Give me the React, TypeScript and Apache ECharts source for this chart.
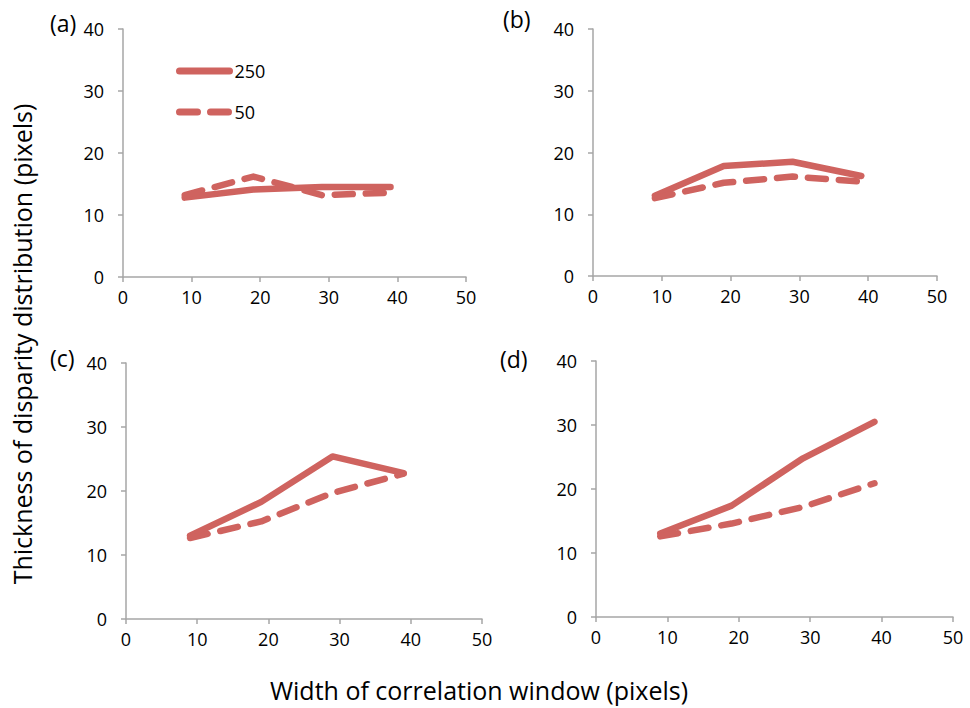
import React, { useEffect, useRef } from "react";
import * as echarts from "echarts";

const windowSizes = [9, 19, 29, 39];
const xTicks = [0, 10, 20, 30, 40, 50];
const yTicks = [0, 10, 20, 30, 40];

const a250 = [12.8, 14.1, 14.5, 14.5];
const a50 = [13.2, 16.2, 13.2, 13.6];
const b250 = [13.0, 17.8, 18.5, 16.2];
const b50 = [12.6, 15.1, 16.1, 15.3];
const c250 = [13.0, 18.3, 25.4, 22.8];
const c50 = [12.65, 15.25, 19.7, 22.7];
const d250 = [13.05, 17.4, 24.8, 30.5];
const d50 = [12.6, 14.6, 17.2, 20.9];

const panelLabels = ["(a)", "(b)", "(c)", "(d)"];
const seriesNames = ["250", "50"];
const xTitle = "Width of correlation window (pixels)";
const yTitle = "Thickness of disparity distribution (pixels)";

const COLOR = "#cf635f";
const AXIS = "#a6a6a6";
const FONT = "'Open Sans', sans-serif";

export default function App() {
  const ref = useRef<HTMLDivElement>(null);
  useEffect(() => {
    if (!ref.current) return;
    const chart = echarts.init(ref.current, null, { renderer: "svg" });
    const grids = [
      { left: 123, top: 29, width: 343, height: 248 },
      { left: 593, top: 29, width: 344, height: 247 },
      { left: 126, top: 363, width: 356, height: 256 },
      { left: 596, top: 361, width: 357, height: 256 },
    ];
    const panels = [
      [a250, a50],
      [b250, b50],
      [c250, c50],
      [d250, d50],
    ];
    const xAxes = grids.map((_, i) => ({
      type: "value",
      gridIndex: i,
      min: xTicks[0],
      max: xTicks[xTicks.length - 1],
      interval: 10,
      axisLine: { show: true, lineStyle: { color: AXIS, width: 1.5 } },
      axisTick: { show: true, length: 5, lineStyle: { color: AXIS, width: 1.5 } },
      splitLine: { show: false },
      axisLabel: { color: "#000", fontSize: 18, fontFamily: FONT, margin: 11 },
    }));
    const yAxes = grids.map((_, i) => ({
      type: "value",
      gridIndex: i,
      min: yTicks[0],
      max: yTicks[yTicks.length - 1],
      interval: 10,
      axisLine: { show: true, lineStyle: { color: AXIS, width: 1.5 } },
      axisTick: { show: true, length: 5, lineStyle: { color: AXIS, width: 1.5 } },
      splitLine: { show: false },
      axisLabel: { color: "#000", fontSize: 18, fontFamily: FONT, margin: 19 },
    }));
    const series: any[] = [];
    panels.forEach((p, i) => {
      p.forEach((vals, j) => {
        series.push({
          type: "line",
          name: seriesNames[j],
          xAxisIndex: i,
          yAxisIndex: i,
          symbol: "none",
          data: windowSizes.map((x, k) => [x, vals[k]]),
          lineStyle: {
            color: COLOR,
            width: 6.5,
            type: j === 0 ? "solid" : [18, 13],
            cap: "round",
            join: "round",
          },
          itemStyle: { color: COLOR },
        });
      });
    });
    const labelPos = [
      [50, 26],
      [503, 22],
      [50, 361],
      [500, 362],
    ];
    chart.setOption({
      animation: false,
      backgroundColor: "#fff",
      grid: grids,
      xAxis: xAxes,
      yAxis: yAxes,
      series,
      legend: {
        data: seriesNames,
        orient: "vertical",
        left: 171,
        top: 57,
        padding: 5,
        itemWidth: 50,
        itemHeight: 14,
        itemGap: 23,
        textStyle: { color: "#000", fontSize: 18, fontFamily: FONT },
        lineStyle: { width: 7, cap: "round" },
        itemStyle: { opacity: 0 },
        selectedMode: false,
      },
      graphic: [
        ...panelLabels.map((t, i) => ({
          type: "text",
          left: labelPos[i][0],
          top: labelPos[i][1] - 15,
          style: { text: t, fontSize: 23, fontFamily: FONT, fill: "#000" },
        })),
        {
          type: "text",
          x: 479,
          y: 690,
          style: {
            text: xTitle,
            fontSize: 25,
            fontFamily: FONT,
            fill: "#000",
            align: "center",
            verticalAlign: "middle",
          },
        },
        {
          type: "text",
          x: 22,
          y: 344,
          rotation: Math.PI / 2,
          style: {
            text: yTitle,
            fontSize: 25,
            fontFamily: FONT,
            fill: "#000",
            align: "center",
            verticalAlign: "middle",
          },
        },
      ],
    });
    return () => chart.dispose();
  }, []);
  return (
    <div
      ref={ref}
      style={{ position: "absolute", left: 0, top: 0, width: 970, height: 708 }}
    />
  );
}
